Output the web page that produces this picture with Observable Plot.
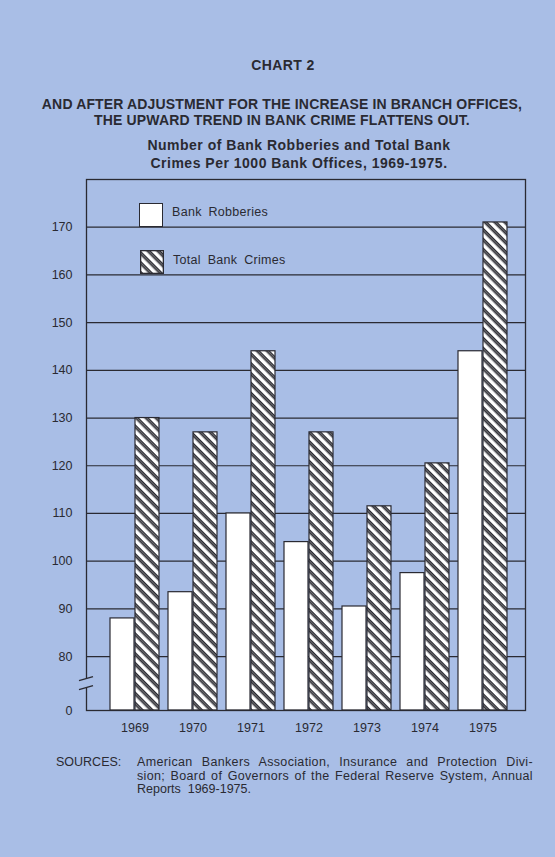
<!DOCTYPE html>
<html><head><meta charset="utf-8">
<script src="https://cdn.jsdelivr.net/npm/d3@7"></script>
<script src="https://cdn.jsdelivr.net/npm/@observablehq/plot@0.6"></script>
<style>
body{margin:0;background:#a9bee6;}
#page{position:relative;width:555px;height:857px;background:#a9bee6;overflow:hidden;font-family:"Liberation Sans",Arial,Helvetica,sans-serif;color:#2a2a32;}
.c{position:absolute;white-space:nowrap;text-align:center;font-weight:bold;width:600px;}
.l{position:absolute;white-space:nowrap;}
.j{position:absolute;white-space:nowrap;width:396px;text-align:justify;text-align-last:justify;font-size:12.5px;line-height:13.5px;letter-spacing:0.35px;}
#chart{position:absolute;left:0;top:170px;}
.sw{position:absolute;width:24px;height:24px;box-sizing:border-box;border:1.3px solid #2a2a32;background:#fff;}
</style></head>
<body><div id="page">
<div class="c" style="left:-17px;top:57.5px;font-size:14px;line-height:15.5px;letter-spacing:0.4px;">CHART 2</div>
<div class="c" style="left:-18px;top:97.2px;font-size:14px;line-height:15.5px;letter-spacing:0.15px;">AND AFTER ADJUSTMENT FOR THE INCREASE IN BRANCH OFFICES,<br>THE UPWARD TREND IN BANK CRIME FLATTENS OUT.</div>
<div class="c" style="left:-1px;top:135.5px;font-size:14px;line-height:18.5px;letter-spacing:0.5px;">Number of Bank Robberies and Total Bank<br>Crimes Per 1000 Bank Offices, 1969-1975.</div>
<div id="chart"></div>
<div class="sw" style="left:139px;top:203px;"></div>
<div class="l" style="left:172px;top:205px;font-size:12.5px;line-height:14px;word-spacing:3px;letter-spacing:0.3px;">Bank Robberies</div>
<div class="sw" style="left:140px;top:250px;background:none;border:none;"><svg width="24" height="24" style="display:block"><defs><pattern id="hatchL" patternUnits="userSpaceOnUse" width="7" height="7" patternTransform="rotate(45)"><rect width="7" height="7" fill="#fff"/><rect width="7" height="3.4" fill="#2a2a32"/><rect y="1.3" width="7" height="0.8" fill="#8a8a8a"/></pattern></defs><rect x="0.65" y="0.65" width="22.7" height="22.7" fill="url(#hatchL)" stroke="#2a2a32" stroke-width="1.3"/></svg></div>
<div class="l" style="left:173px;top:253px;font-size:12.5px;line-height:14px;word-spacing:3px;letter-spacing:0.3px;">Total Bank Crimes</div>
<div class="l" style="left:56px;top:756px;font-size:12.5px;line-height:13.5px;">SOURCES:</div>
<div class="j" style="left:137px;top:756px;">American Bankers Association, Insurance and Protection Divi-</div>
<div class="j" style="left:137px;top:769.5px;">sion; Board of Governors of the Federal Reserve System, Annual</div>
<div class="l" style="left:137px;top:783px;font-size:12.5px;line-height:13.5px;">Reports&nbsp; 1969-1975.</div>
</div>
<script>
const years = ["1969", "1970", "1971", "1972", "1973", "1974", "1975"];
const robberies = [88, 93.5, 110, 104, 90.5, 97.5, 144];
const totalCrimes = [130, 127, 144, 127, 111.5, 120.5, 171];
// the axis is broken below 80: the "0" baseline sits a little more than one interval under 80
const axisBase = 68.7;
const yTicks = [axisBase, 80, 90, 100, 110, 120, 130, 140, 150, 160, 170];
const gridValues = [80, 90, 100, 110, 120, 130, 140, 150, 160, 170];

const ink = "#2a2a32";
const bg = "#a9bee6";
const data = years.map((year, i) => ({year, robberies: robberies[i], total: totalCrimes[i]}));

function axisBreak(index, scales, values, dimensions) {
  const g = d3.create("svg:g");
  const x = dimensions.marginLeft;
  const mid = (scales.y(axisBase) + scales.y(80)) / 2;
  const a = mid - 4.5, b = mid + 4.5;
  g.append("rect").attr("x", x - 2).attr("y", a).attr("width", 4).attr("height", b - a).attr("fill", bg);
  for (const yy of [a, b]) {
    g.append("line").attr("x1", x - 7).attr("y1", yy + 2).attr("x2", x + 7).attr("y2", yy - 2)
      .attr("stroke", ink).attr("stroke-width", 1.3);
  }
  return g.node();
}

const chart = Plot.plot({
  width: 555,
  height: 580,
  marginLeft: 86,
  marginRight: 30,
  marginTop: 9,
  marginBottom: 40,
  style: {background: "transparent", fontFamily: "'Liberation Sans', Arial, sans-serif", fontSize: "12.5px", color: ink},
  x: {domain: years, range: [99, 519], padding: 0.15, tickSize: 0, tickPadding: 13, label: null},
  y: {domain: [axisBase, 180], ticks: yTicks, tickFormat: d => d < 80 ? "0" : String(d), tickSize: 0, tickPadding: 14, label: null},
  marks: [
    Plot.ruleY(gridValues, {stroke: ink, strokeWidth: 1.2}),
    Plot.barY(data, {x: "year", y1: axisBase, y2: "robberies", fill: "white", stroke: ink, strokeWidth: 1.2, insetRight: 25}),
    Plot.barY(data, {x: "year", y1: axisBase, y2: "total", fill: "url(#hatch)", stroke: ink, strokeWidth: 1.2, insetLeft: 25}),
    Plot.frame({stroke: ink, strokeWidth: 1.3}),
    axisBreak
  ]
});

const ns = "http://www.w3.org/2000/svg";
const defs = document.createElementNS(ns, "defs");
defs.innerHTML = '<pattern id="hatch" patternUnits="userSpaceOnUse" width="7" height="7" patternTransform="rotate(45)"><rect width="7" height="7" fill="#fff"/><rect width="7" height="3.4" fill="#2a2a32"/><rect y="1.3" width="7" height="0.8" fill="#8a8a8a"/></pattern>';
chart.insertBefore(defs, chart.firstChild);
document.getElementById("chart").appendChild(chart);
</script>
</body></html>
